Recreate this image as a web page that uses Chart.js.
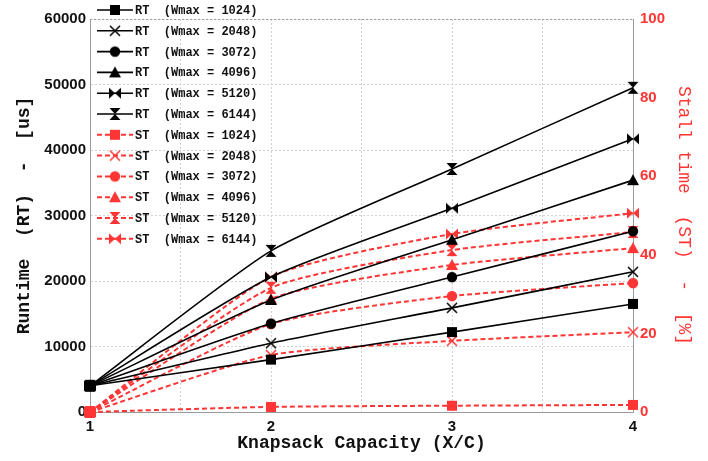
<!DOCTYPE html>
<html>
<head>
<meta charset="utf-8">
<title>Knapsack capacity vs runtime / stall time</title>
<script src="https://cdn.jsdelivr.net/npm/chart.js@4/dist/chart.umd.min.js"></script>
<style>
  html, body { margin: 0; padding: 0; background: #fff; }
  #wrap { width: 708px; height: 461px; }
</style>
</head>
<body>
<div id="wrap"><canvas id="chart" width="708" height="461"></canvas></div>
<script>
// --- data ---
const capacity = [1, 2, 3, 4];
const wmaxLabels = ['1024', '2048', '3072', '4096', '5120', '6144'];

// runtime (us), left axis
const rt1024 = [4000, 8000, 12200, 16500];
const rt2048 = [4000, 10500, 15900, 21400];
const rt3072 = [4000, 13500, 20600, 27600];
const rt4096 = [4000, 17100, 26300, 35400];
const rt5120 = [4000, 20600, 31100, 41700];
const rt6144 = [4000, 24600, 37100, 49500];

// stall time (%), right axis
const st1024 = [0, 1.3, 1.6, 1.8];
const st2048 = [0, 14.5, 18.1, 20.3];
const st3072 = [0, 22.4, 29.5, 32.8];
const st4096 = [0, 28.8, 37.4, 41.7];
const st5120 = [0, 31.6, 41.2, 45.8];
const st6144 = [0, 34.4, 45.3, 50.6];

const xTicks = [1, 1.5, 2, 2.5, 3, 3.5, 4];
const rtTicks = [0, 10000, 20000, 30000, 40000, 50000, 60000];
const stTicks = [0, 20, 40, 60, 80, 100];

const rtSeries = [rt1024, rt2048, rt3072, rt4096, rt5120, rt6144];
const stSeries = [st1024, st2048, st3072, st4096, st5120, st6144];
const rtShapes = ['square', 'cross', 'circle', 'triangle', 'bowtie', 'hourglass'];
const stShapes = ['square', 'cross', 'circle', 'triangle', 'hourglass', 'bowtie'];

const BLACK = '#000000';
const RED = '#ff3535';
const MONO = '"Liberation Mono", "DejaVu Sans Mono", monospace';
const SANS = '"Liberation Sans", Arial, sans-serif';

// little canvases used as point styles (gnuplot-like markers)
function makeMarker(shape, color) {
    const s = 16, m = s / 2;
    const c = document.createElement('canvas');
    c.width = s; c.height = s;
    const g = c.getContext('2d');
    g.fillStyle = color;
    g.strokeStyle = color;
    g.lineWidth = 1.5;
    g.beginPath();
    switch (shape) {
        case 'square':
            g.fillRect(m - 5, m - 5, 10, 10);
            break;
        case 'cross':
            g.moveTo(m - 5, m - 5); g.lineTo(m + 5, m + 5);
            g.moveTo(m + 5, m - 5); g.lineTo(m - 5, m + 5);
            g.stroke();
            break;
        case 'circle':
            g.arc(m, m, 5.2, 0, Math.PI * 2);
            g.fill();
            break;
        case 'triangle':
            g.moveTo(m, m - 6); g.lineTo(m + 6, m + 5); g.lineTo(m - 6, m + 5);
            g.closePath(); g.fill();
            break;
        case 'bowtie':
            g.moveTo(m - 6, m - 5.5); g.lineTo(m - 6, m + 5.5); g.lineTo(m, m); g.closePath();
            g.moveTo(m + 6, m - 5.5); g.lineTo(m + 6, m + 5.5); g.lineTo(m, m); g.closePath();
            g.fill();
            break;
        case 'hourglass':
            g.moveTo(m - 5.5, m - 6); g.lineTo(m + 5.5, m - 6); g.lineTo(m, m); g.closePath();
            g.moveTo(m - 5.5, m + 6); g.lineTo(m + 5.5, m + 6); g.lineTo(m, m); g.closePath();
            g.fill();
            break;
    }
    return c;
}

const datasets = [];
rtSeries.forEach((vals, i) => {
    datasets.push({
        label: 'RT  (Wmax = ' + wmaxLabels[i] + ')',
        data: vals.map((v, k) => ({ x: capacity[k], y: v })),
        yAxisID: 'y',
        borderColor: BLACK,
        backgroundColor: BLACK,
        borderWidth: 1.6,
        pointStyle: makeMarker(rtShapes[i], BLACK),
        tension: 0.2,
        clip: false
    });
});
stSeries.forEach((vals, i) => {
    datasets.push({
        label: 'ST  (Wmax = ' + wmaxLabels[i] + ')',
        data: vals.map((v, k) => ({ x: capacity[k], y: v })),
        yAxisID: 'y2',
        borderColor: RED,
        backgroundColor: RED,
        borderWidth: 2,
        borderDash: [5, 3],
        pointStyle: makeMarker(stShapes[i], RED),
        tension: 0.2,
        clip: false
    });
});

// legend drawn inside the plot, top-left, plus dotted top border
const plotExtras = {
    id: 'plotExtras',
    afterDatasetsDraw(chart) {
        const { ctx, chartArea } = chart;
        ctx.save();
        ctx.strokeStyle = '#9a9a9a';
        ctx.lineWidth = 1;
        ctx.setLineDash([2, 2]);
        ctx.beginPath();
        ctx.moveTo(chartArea.left, chartArea.top + 0.5);
        ctx.lineTo(chartArea.right, chartArea.top + 0.5);
        ctx.stroke();

        ctx.font = 'bold 12px ' + MONO;
        ctx.textBaseline = 'middle';
        ctx.textAlign = 'left';
        chart.data.datasets.forEach((ds, i) => {
            const y = 10 + i * 20.8;
            ctx.strokeStyle = ds.borderColor;
            ctx.lineWidth = ds.borderWidth;
            ctx.setLineDash(ds.borderDash || []);
            ctx.beginPath();
            ctx.moveTo(97, y);
            ctx.lineTo(133, y);
            ctx.stroke();
            ctx.setLineDash([]);
            const img = ds.pointStyle;
            ctx.drawImage(img, 115 - img.width / 2, y - img.height / 2);
            ctx.fillStyle = '#111';
            ctx.fillText(ds.label, 135, y + 1);
        });
        ctx.restore();
    }
};

const gridColor = '#d2d2d2';
const axisBorder = { display: true, color: '#9a9a9a', width: 1, dash: [2, 2] };

new Chart(document.getElementById('chart').getContext('2d'), {
    type: 'line',
    data: { datasets },
    options: {
        responsive: false,
        animation: false,
        devicePixelRatio: 1,
        layout: { padding: { top: 19, left: 0, right: 0, bottom: 0 } },
        plugins: {
            legend: { display: false },
            tooltip: { enabled: false }
        },
        elements: {
            point: { radius: 5 }
        },
        scales: {
            x: {
                type: 'linear',
                min: 1,
                max: 4,
                afterFit: s => { s.height = 49; },
                afterBuildTicks: s => {
                    s.ticks = xTicks.map(v => ({ value: v }));
                },
                ticks: {
                    autoSkip: false,
                    maxRotation: 0,
                    padding: 6,
                    color: '#111',
                    font: { family: SANS, size: 15, weight: 'bold' },
                    callback: v => Number.isInteger(v) ? String(v) : ''
                },
                grid: { color: gridColor, drawTicks: false },
                border: axisBorder,
                title: {
                    display: true,
                    text: 'Knapsack Capacity (X/C)',
                    color: '#111',
                    font: { family: MONO, size: 18, weight: 'bold' },
                    padding: { top: 0, bottom: 7 }
                }
            },
            y: {
                position: 'left',
                min: 0,
                max: 60000,
                afterFit: s => { s.width = 90; },
                afterBuildTicks: s => {
                    s.ticks = rtTicks.map(v => ({ value: v }));
                },
                ticks: {
                    padding: 4,
                    color: '#111',
                    font: { family: SANS, size: 15, weight: 'bold' },
                    callback: v => String(v)
                },
                grid: { color: gridColor, drawTicks: false },
                border: axisBorder,
                title: {
                    display: true,
                    text: 'Runtime  (RT)  -  [us]',
                    color: '#111',
                    font: { family: MONO, size: 18, weight: 'bold' },
                    padding: { top: 14, bottom: 0 }
                }
            },
            y2: {
                position: 'right',
                min: 0,
                max: 100,
                afterFit: s => { s.width = 75; },
                afterBuildTicks: s => {
                    s.ticks = stTicks.map(v => ({ value: v }));
                },
                ticks: {
                    padding: 7,
                    color: RED,
                    font: { family: SANS, size: 15, weight: 'bold' },
                    callback: v => String(v)
                },
                grid: { drawOnChartArea: false, drawTicks: false },
                border: axisBorder,
                title: {
                    display: true,
                    text: 'Stall time  (ST)  -  [%]',
                    color: RED,
                    font: { family: MONO, size: 18 },
                    padding: { top: 13, bottom: 0 }
                }
            }
        }
    },
    plugins: [plotExtras]
});
</script>
</body>
</html>
